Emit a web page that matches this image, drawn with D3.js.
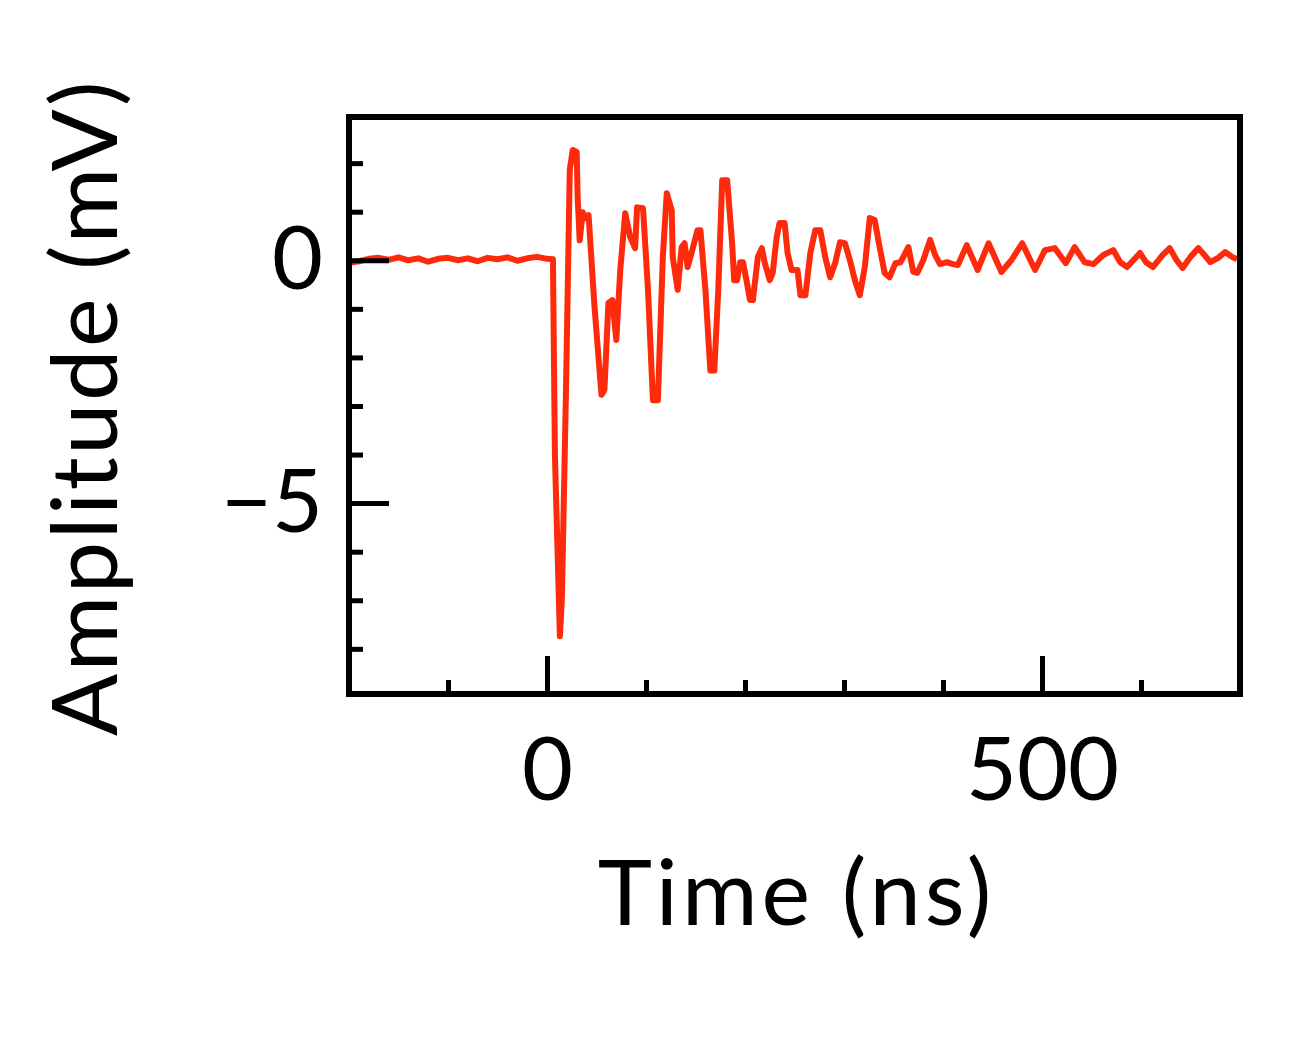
<!DOCTYPE html>
<html>
<head>
<meta charset="utf-8">
<script src="https://cdn.jsdelivr.net/npm/d3@7"></script>
<style>
  body { margin: 0; background: #fff; }
  svg { display: block; }
  text { font-family: Lato, "Noto Sans", sans-serif; fill: #000; }
</style>
</head>
<body>
<div id="chart"></div>
<script>
// waveform (ns, mV)
const times = [-200, -190, -180, -170, -160, -150, -140, -130, -120, -110, -100, -90, -80, -70, -60, -50, -40, -30, -20, -10, 0, 6,
    8, 13, 15, 19, 23, 26, 30, 31, 33, 36, 39, 42, 48, 55, 58, 62, 66, 70, 74, 79, 84, 89, 91, 97,
    102, 107, 112, 117, 121, 126, 127, 132, 136, 139, 142, 146, 152, 155, 160, 165, 169, 173, 177, 182,
    187, 189, 192, 195, 198, 202, 205, 208, 213, 217, 220, 225, 228, 232, 235, 240, 243, 247, 253, 256,
    261, 266, 271, 276, 281, 286, 291, 296, 301, 306, 311, 316, 321, 326, 331, 336, 341, 346, 352, 357,
    362, 365, 370, 374, 380, 387, 392, 397, 404, 410, 415, 424, 435, 446, 459, 469, 480, 493, 503, 513,
    524, 533, 543, 552, 562, 572, 579, 586, 599, 605, 612, 622, 629, 636, 642, 650, 658, 664, 670, 678,
    685, 692, 697];
const amps = [-0.05, -0.02, 0.03, 0.05, 0.01, 0.06, 0.0, 0.04, -0.03, 0.03, 0.05, 0.0, 0.04, -0.02, 0.05, 0.02, 0.06, -0.01, 0.04, 0.07, 0.03, 0.02,
    -4.01, -7.74, -6.99, -2.88, 1.86, 2.27, 2.23, 1.28, 0.41, 0.99, 0.87, 0.93, -0.96, -2.77, -2.67, -0.88, -0.82, -1.64, -0.20, 0.97, 0.48, 0.25, 1.09, 1.07,
    -0.61, -2.88, -2.88, 0.07, 1.38, 1.03, 0.07, -0.61, 0.27, 0.35, -0.14, 0.15, 0.62, 0.62, -0.61, -2.27, -2.27, -0.61, 1.65, 1.65,
    0.35, -0.41, -0.41, -0.04, -0.04, -0.47, -0.82, -0.82, 0.07, 0.25, -0.06, -0.41, -0.26, 0.48, 0.77, 0.77, 0.15, -0.20, -0.20, -0.72,
    -0.72, 0.15, 0.62, 0.62, 0.07, -0.35, -0.06, 0.37, 0.35, 0.00, -0.41, -0.72, -0.14, 0.87, 0.83, 0.27, -0.26, -0.35, -0.06, -0.04,
    0.15, 0.27, -0.24, -0.26, 0.00, 0.42, 0.11, -0.08, -0.04, -0.08, -0.10, 0.31, -0.20, 0.35, -0.24, 0.00, 0.35, -0.20, 0.21, 0.25,
    -0.06, 0.27, -0.04, -0.08, 0.11, 0.21, -0.04, -0.14, 0.15, -0.04, -0.14, 0.11, 0.25, 0.00, -0.16, 0.07, 0.25, 0.11, -0.04, 0.05,
    0.17, 0.07, 0.02];

const xMajor = [0, 500];
const xMinor = [-100, 100, 200, 300, 400, 600];
const yMajor = [0, -5];
const yMinor = [2, 1, -1, -2, -3, -4, -6, -7, -8];

const width = 1310;
const height = 1050;
const margin = {top: 117, right: 70, bottom: 356, left: 349};

const x = d3.scaleLinear()
    .domain([-200, 700])
    .range([margin.left, width - margin.right]);

const y = d3.scaleLinear()
    .domain([-8.93, 2.95])
    .range([height - margin.bottom, margin.top]);

const svg = d3.select('#chart').append('svg')
    .attr('width', width)
    .attr('height', height);

const data = times.map((t, i) => ({t: t, v: amps[i]}));

const line = d3.line()
    .x(d => x(d.t))
    .y(d => y(d.v));

svg.append('path')
    .datum(data)
    .attr('fill', 'none')
    .attr('stroke', '#fe2a0c')
    .attr('stroke-width', 6)
    .attr('stroke-linejoin', 'round')
    .attr('d', line);

// ticks point inward
const xAxisMajor = g => g
    .attr('transform', `translate(0,${height - margin.bottom})`)
    .call(d3.axisBottom(x).tickValues(xMajor).tickSize(-38).tickPadding(44).tickFormat(d3.format('d')));
const xAxisMinor = g => g
    .attr('transform', `translate(0,${height - margin.bottom})`)
    .call(d3.axisBottom(x).tickValues(xMinor).tickSize(-14).tickFormat(''));
const yAxisMajor = g => g
    .attr('transform', `translate(${margin.left},0)`)
    .call(d3.axisLeft(y).tickValues(yMajor).tickSize(-40).tickPadding(26).tickFormat(d3.format('d')));
const yAxisMinor = g => g
    .attr('transform', `translate(${margin.left},0)`)
    .call(d3.axisLeft(y).tickValues(yMinor).tickSize(-14).tickFormat(''));

for (const ax of [xAxisMajor, xAxisMinor, yAxisMajor, yAxisMinor]) {
    svg.append('g')
        .call(ax)
        .call(g => g.select('.domain').remove())
        .call(g => g.selectAll('line').attr('stroke', '#000').attr('stroke-width', 5))
        .call(g => g.selectAll('text').attr('font-size', 88).attr('fill', '#000'));
}

svg.append('rect')
    .attr('x', margin.left)
    .attr('y', margin.top)
    .attr('width', width - margin.right - margin.left)
    .attr('height', height - margin.bottom - margin.top)
    .attr('fill', 'none')
    .attr('stroke', '#000')
    .attr('stroke-width', 6);

svg.append('text')
    .attr('x', (margin.left + width - margin.right) / 2 + 2)
    .attr('y', 925)
    .attr('text-anchor', 'middle')
    .attr('font-size', 92)
    .attr('letter-spacing', 4)
    .text('Time (ns)');

svg.append('text')
    .attr('transform', `translate(117,${(margin.top + height - margin.bottom) / 2 + 2}) rotate(-90)`)
    .attr('text-anchor', 'middle')
    .attr('font-size', 92)
    .attr('letter-spacing', 2.5)
    .text('Amplitude (mV)');
</script>
</body>
</html>
